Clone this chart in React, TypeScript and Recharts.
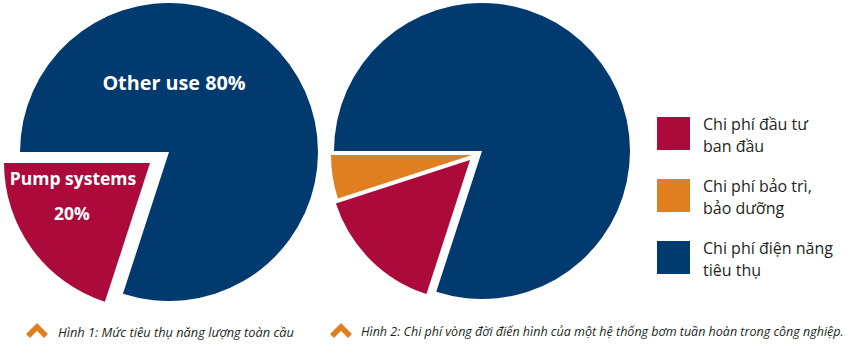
import React from 'react';
import { PieChart, Pie, Cell, Legend } from 'recharts';

// ---- data ----
const pie1Names = ['Pump systems', 'Other use'];
const pie1Values = [20, 80];

const pie2Names = ['Chi phí bảo trì, bảo dưỡng', 'Chi phí đầu tư ban đầu', 'Chi phí điện năng tiêu thụ'];
const pie2Values = [5, 15, 80];

const legendLines = [
  ['Chi phí đầu tư', 'ban đầu'],
  ['Chi phí bảo trì,', 'bảo dưỡng'],
  ['Chi phí điện năng', 'tiêu thụ'],
];
const legendKeys = [1, 0, 2];

const caption1 = 'Hình 1: Mức tiêu thụ năng lượng toàn cầu';
const caption2 = 'Hình 2: Chi phí vòng đời điển hình của một hệ thống bơm tuần hoàn trong công nghiệp.';

// ---- styles ----
const BLUE = '#013a6e';
const RED = '#ad0a3c';
const ORANGE = '#e07f1f';
const pie1Colors = [RED, BLUE];
const pie2Colors = [ORANGE, RED, BLUE];

const data1 = pie1Names.map((name, i) => ({ name, value: pie1Values[i] }));
const data2 = pie2Names.map((name, i) => ({ name, value: pie2Values[i] }));

const labelFont = "'Open Sans', 'Noto Sans', sans-serif";

const otherLabel = (p: any) => {
  if (p.index !== 1) return null;
  return (
    <text x={p.cx + 5} y={p.cy - 62} fill="#fff" textAnchor="middle" fontFamily={labelFont} fontWeight={700} fontSize={19.8}>
      {`${data1[1].name} ${data1[1].value}%`}
    </text>
  );
};

const pumpLabel = (p: any) => {
  if (p.index !== 0) return null;
  return (
    <g>
      <text x={p.cx - 77} y={p.cy + 22} fill="#fff" textAnchor="middle" fontFamily={labelFont} fontWeight={700} fontSize={17.5}>
        {data1[0].name}
      </text>
      <text x={p.cx - 78} y={p.cy + 57} fill="#fff" textAnchor="middle" fontFamily={labelFont} fontWeight={700} fontSize={17.5}>
        {`${data1[0].value}%`}
      </text>
    </g>
  );
};

const LegendBox = () => (
  <div style={{ fontFamily: labelFont, fontSize: 16, color: '#231f20', lineHeight: '22px' }}>
    {legendLines.map((lines, i) => (
      <div key={i} style={{ display: 'flex', alignItems: 'flex-start', height: i < 2 ? 62 : 44 }}>
        <div style={{ width: 33, height: 33, background: pie2Colors[legendKeys[i]], marginRight: 13, flex: 'none' }} />
        <div style={{ marginTop: -4 }}>
          {lines.map((l, j) => (
            <div key={j}>{l}</div>
          ))}
        </div>
      </div>
    ))}
  </div>
);

const Chevron = ({ left, top }: { left: number; top: number }) => (
  <svg width={24} height={20} style={{ position: 'absolute', left, top }}>
    <polyline points="3,16 12,7 21,16" fill="none" stroke={ORANGE} strokeWidth={5.5} strokeLinejoin="miter" />
  </svg>
);

const captionStyle: React.CSSProperties = {
  position: 'absolute',
  fontFamily: labelFont,
  fontStyle: 'italic',
  fontSize: 12.8,
  color: '#231f20',
  whiteSpace: 'nowrap',
};

const slicePie = (
  key: string,
  data: any[],
  colors: string[],
  visible: number,
  cx: number,
  cy: number,
  r: number,
  label?: any
) => (
  <Pie
    key={key}
    data={data}
    dataKey="value"
    nameKey="name"
    cx={cx}
    cy={cy}
    innerRadius={0}
    outerRadius={r}
    startAngle={180}
    endAngle={540}
    stroke="none"
    isAnimationActive={false}
    label={label || false}
    labelLine={false}
    legendType="none"
  >
    {data.map((d, i) => (
      <Cell key={i} fill={i === visible ? colors[i] : 'transparent'} stroke="none" />
    ))}
  </Pie>
);

export default function App() {
  return (
    <div style={{ position: 'absolute', left: 0, top: 0, width: 867, height: 350, background: '#fff' }}>
      <PieChart width={867} height={350} margin={{ top: 0, right: 0, bottom: 0, left: 0 }}>
        {slicePie('b1', data1, pie1Colors, 1, 169, 152, 149, otherLabel)}
        {slicePie('r1', data1, pie1Colors, 0, 150, 163, 146, pumpLabel)}
        {slicePie('b2', data2, pie2Colors, 2, 482, 151, 148)}
        {slicePie('o2', data2, pie2Colors, 0, 472, 155, 141)}
        {slicePie('r2', data2, pie2Colors, 1, 470, 160, 141)}
        <Legend
          content={() => <LegendBox />}
          wrapperStyle={{ position: 'absolute', left: 657, top: 117, width: 210 }}
        />
      </PieChart>
      <Chevron left={25} top={320} />
      <div style={{ ...captionStyle, left: 58, top: 323 }}>{caption1}</div>
      <Chevron left={329} top={320} />
      <div style={{ ...captionStyle, left: 361, top: 323, fontSize: 12.5 }}>{caption2}</div>
    </div>
  );
}
